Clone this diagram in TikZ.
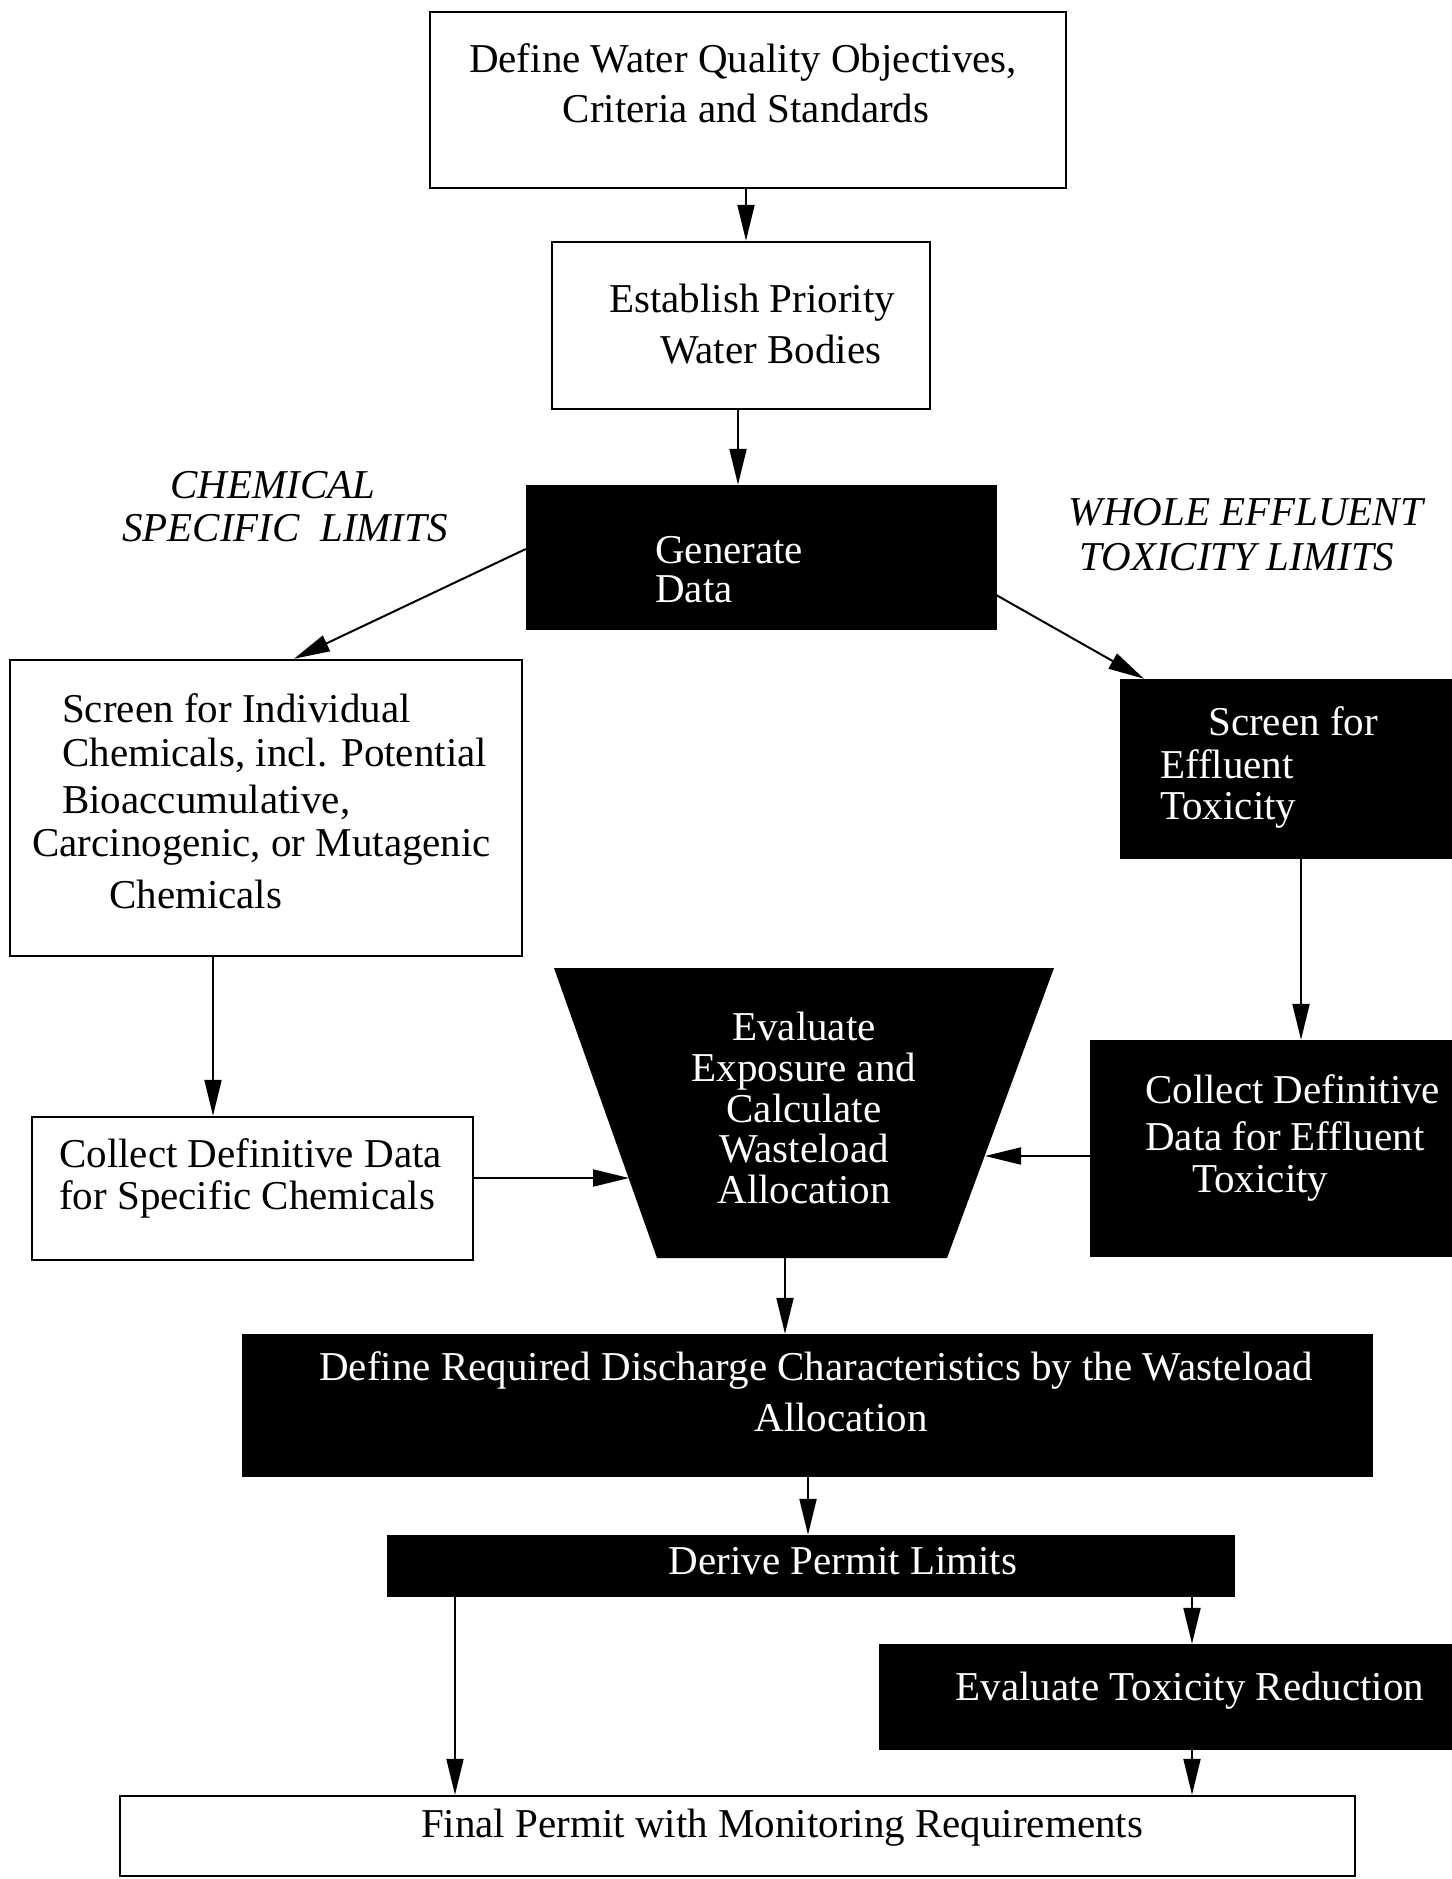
\documentclass[tikz,border=0pt]{standalone}
\usepackage{fontspec}
\setmainfont{Liberation Serif}
\usetikzlibrary{arrows.meta}
\begin{document}
\begin{tikzpicture}[x=1pt,y=-1pt,
  wbox/.style={draw=black, line width=2.5pt, fill=white, inner sep=0, rectangle},
  bbox/.style={draw=black, fill=black, inner sep=0, rectangle},
  txt/.style={font=\fontsize{41}{48}\selectfont, inner sep=0, anchor=west},
  wtxt/.style={txt, text=white},
  ctxt/.style={txt, anchor=center},
  cwtxt/.style={ctxt, text=white},
  itxt/.style={font=\fontsize{41}{48}\selectfont\itshape, inner sep=0, anchor=center},
  arr/.style={line width=2pt, -{Triangle[length=36pt,width=17pt]}},
]
\useasboundingbox[fill=white] (0,0) rectangle (1451,1879);

% boxes
\node[wbox, minimum width=636pt, minimum height=176pt] (b1) at (748,100) {};
\node[wbox, minimum width=378pt, minimum height=167pt] (b2) at (741,325.5) {};
\node[bbox, minimum width=470pt, minimum height=144pt] (gen) at (761,557) {};
\node[wbox, minimum width=512pt, minimum height=296pt] (scrc) at (266,808) {};
\node[bbox, minimum width=340pt, minimum height=179pt] (scre) at (1290,768.5) {};
\node[wbox, minimum width=441pt, minimum height=143pt] (colc) at (252.5,1188.5) {};
\node[bbox, minimum width=370pt, minimum height=216pt] (cole) at (1275,1148) {};
\node[bbox, minimum width=1130pt, minimum height=142pt] (def) at (807,1405) {};
\node[bbox, minimum width=847pt, minimum height=61pt] (der) at (810.5,1565.5) {};
\node[bbox, minimum width=581pt, minimum height=105pt] (evt) at (1169.5,1696.5) {};
\node[wbox, minimum width=1235pt, minimum height=80pt] (fin) at (737.5,1836) {};

% trapezoid
\coordinate (ttl) at (554,968);
\coordinate (ttr) at (1054,968);
\coordinate (tbr) at (947,1258);
\coordinate (tbl) at (657,1258);
\fill[black] (ttl) -- (ttr) -- (tbr) -- (tbl) -- cycle;
\coordinate (trapL) at (629,1178);
\coordinate (trapR) at (985,1156);
\coordinate (trapB) at (785,1258);

% texts
\node[ctxt] (t1a) at (743,62) {Define Water Quality Objectives,};
\node[ctxt] (t1b) at (746,108) {Criteria and Standards};
\node[txt] (t2a) at (609,303) {Establish Priority};
\node[txt] (t2b) at (660,350) {Water Bodies};
\node[wtxt, align=left, font=\fontsize{41}{39}\selectfont] (tga) at (655,569.5) {Generate\\Data};
\node[txt] (tsa) at (62,708) {Screen for Individual};
\node[txt] (tsb) at (62,755) {Chemicals, incl. Potential};
\node[txt] (tsc) at (62,802) {Bioaccumulative,};
\node[txt] (tsd) at (32,847) {Carcinogenic, or Mutagenic};
\node[txt] (tse) at (109,894) {Chemicals};
\node[wtxt] (tea) at (1208,721) {Screen for};
\node[wtxt, align=left, font=\fontsize{41}{41}\selectfont] (teb) at (1160,788.5) {Effluent\\Toxicity};
\node[txt] (tca) at (59,1153) {Collect Definitive Data};
\node[txt] (tcb) at (59,1199) {for Specific Chemicals};
\node[cwtxt, align=center, font=\fontsize{41}{40.7}\selectfont] (tta) at (804,1108) {Evaluate\\Exposure and\\Calculate\\Wasteload\\Allocation};
\node[wtxt] (tfa) at (1145,1089) {Collect Definitive};
\node[wtxt] (tfb) at (1145,1136) {Data for Effluent};
\node[wtxt] (tfc) at (1192,1183) {Toxicity};
\node[cwtxt] (tda) at (816,1370) {Define Required Discharge Characteristics by the Wasteload};
\node[cwtxt] (tdb) at (841,1417) {Allocation};
\node[cwtxt] (tpa) at (843,1561) {Derive Permit Limits};
\node[cwtxt] (tva) at (1190,1691) {Evaluate Toxicity Reduction};
\node[ctxt] (tfin) at (782,1828) {Final Permit with Monitoring Requirements};
\node[itxt] (lca) at (273,485) {CHEMICAL};
\node[itxt] (lcb) at (285,528) {SPECIFIC\ \ LIMITS};
\node[itxt] (lwa) at (1246,512) {WHOLE EFFLUENT};
\node[itxt] (lwb) at (1237,557) {TOXICITY LIMITS};

% arrows
\draw[arr] (746,0 |- b1.south) -- (746,0 |- b2.north);
\draw[arr] (738,0 |- b2.south) -- (738,0 |- gen.north);
\draw[arr] (gen.west |- 0,549) -- (294,0 |- scrc.north);
\draw[arr] (gen.east |- 0,595) -- (1144,0 |- scre.north);
\draw[arr] (213,0 |- scrc.south) -- (213,0 |- colc.north);
\draw[arr] (colc.east |- 0,1178) -- (trapL);
\draw[arr] (1301,0 |- scre.south) -- (1301,0 |- cole.north);
\draw[arr] (cole.west |- 0,1156) -- (trapR);
\draw[arr] (trapB) -- (785,0 |- def.north);
\draw[arr] (808,0 |- def.south) -- (808,0 |- der.north);
\draw[arr] (455,0 |- der.south) -- (455,0 |- fin.north);
\draw[arr] (1192,0 |- der.south) -- (1192,0 |- evt.north);
\draw[arr] (1192,0 |- evt.south) -- (1192,0 |- fin.north);
\end{tikzpicture}
\end{document}
